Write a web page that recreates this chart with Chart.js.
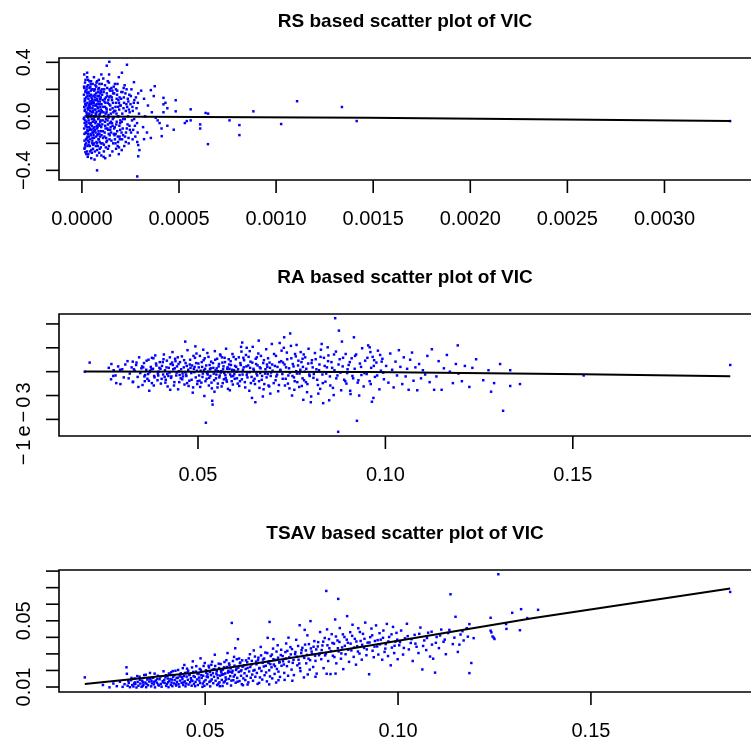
<!DOCTYPE html>
<html>
<head>
<meta charset="utf-8">
<title>VIC scatter plots</title>
<script src="https://cdn.jsdelivr.net/npm/chart.js@4.4.1/dist/chart.umd.min.js"></script>
<style>
  html, body { margin: 0; padding: 0; background: #fff; overflow: hidden; }
  #wrap { position: relative; width: 751px; height: 742px; }
  canvas { position: absolute; left: 0; }
</style>
</head>
<body>
<div id="wrap">
  <canvas id="rsChart" width="751" height="256" style="top:0"></canvas>
  <canvas id="raChart" width="751" height="256" style="top:256px"></canvas>
  <canvas id="tsChart" width="751" height="230" style="top:512px"></canvas>
</div>
<script>
// ---- data ----

// panel titles
const titles = ['RS based scatter plot of VIC', 'RA based scatter plot of VIC', 'TSAV based scatter plot of VIC'];

// RS panel
const rsXTicks = [0, 0.0005, 0.001, 0.0015, 0.002, 0.0025, 0.003];
const rsXLabels = ['0.0000', '0.0005', '0.0010', '0.0015', '0.0020', '0.0025', '0.0030'];
const rsYTicks = [-0.4, -0.2, 0, 0.2, 0.4];
const rsYLabels = ['\u22120.4', '', '0.0', '', '0.4'];
const rsLine = [[0.00002, -0.002], [0.00147, -0.01], [0.00334, -0.035]];
const rsPoints = [
  [1.2e-5,0.31],[2.5e-5,0.22],[1.8e-5,0.18],[2.9e-5,0.15],[1.4e-5,0.11],[2.2e-5,0.08],[1.6e-5,0.05],[2.7e-5,0.02],
  [1.1e-5,-0.01],[2.4e-5,-0.04],[1.9e-5,-0.07],[2.8e-5,-0.1],[1.3e-5,-0.13],[2.1e-5,-0.17],[1.7e-5,-0.21],[2.6e-5,-0.26],
  [1.5e-5,0.13],[2.3e-5,0.03],[1.0e-5,-0.02],[2.9e-5,-0.15],[1.9e-5,0.19],[2.5e-5,-0.08],[1.2e-5,0.07],[2.2e-5,-0.12],
  [1.6e-5,0.25],[2.8e-5,0.1],[1.4e-5,-0.05],[2.0e-5,0.0],
  [3.2e-5,0.27],[4.5e-5,0.24],[5.8e-5,0.2],[3.6e-5,0.17],[4.9e-5,0.14],[5.3e-5,0.12],[3.9e-5,0.09],[4.2e-5,0.07],
  [5.6e-5,0.04],[3.4e-5,0.01],[4.7e-5,0.0],[5.1e-5,-0.02],[3.8e-5,-0.05],[4.4e-5,-0.06],[5.9e-5,-0.09],[3.1e-5,-0.11],
  [4.6e-5,-0.14],[5.4e-5,-0.16],[3.7e-5,-0.19],[4.1e-5,-0.22],[5.7e-5,-0.24],[3.3e-5,-0.28],[4.8e-5,-0.31],[5.2e-5,0.1],
  [3.5e-5,-0.03],[4.3e-5,0.06],[5.5e-5,-0.12],[4.0e-5,0.15],[3.0e-5,-0.18],[4.6e-5,0.19],[5.0e-5,0.03],[3.6e-5,-0.08],
  [5.8e-5,0.08],[4.2e-5,-0.26],[3.9e-5,0.21],[5.3e-5,-0.2],[4.4e-5,0.11],[3.2e-5,0.05],[5.6e-5,-0.04],[4.9e-5,-0.1],
  [6.2e-5,0.29],[7.5e-5,0.25],[8.8e-5,0.21],[9.6e-5,0.19],[6.6e-5,0.16],[7.9e-5,0.13],[9.2e-5,0.11],[6.9e-5,0.08],
  [8.3e-5,0.06],[9.9e-5,0.03],[7.1e-5,0.02],[8.6e-5,-0.01],[6.4e-5,-0.03],[9.4e-5,-0.04],[7.7e-5,-0.07],[8.1e-5,-0.08],
  [6.8e-5,-0.1],[9.0e-5,-0.13],[7.3e-5,-0.15],[8.5e-5,-0.17],[6.1e-5,-0.2],[9.7e-5,-0.23],[7.8e-5,-0.25],[8.9e-5,-0.27],
  [6.5e-5,-0.32],[9.3e-5,0.17],[7.0e-5,0.05],[8.4e-5,-0.06],[6.7e-5,0.12],[9.8e-5,-0.11],[7.4e-5,0.22],[8.0e-5,0.15],
  [6.3e-5,0.0],[9.1e-5,-0.19],[7.6e-5,0.09],[8.7e-5,0.27],[6.0e-5,-0.14],[9.5e-5,0.07],[7.2e-5,-0.22],[8.2e-5,0.18],
  [6.9e-5,-0.05],[9.0e-5,0.01],[7.8e-5,-0.29],[9.7e-5,0.14],
  [1.02e-4,0.24],[1.15e-4,0.2],[1.28e-4,0.17],[1.41e-4,0.14],[1.07e-4,0.12],[1.33e-4,0.1],[1.19e-4,0.07],[1.46e-4,0.05],
  [1.11e-4,0.03],[1.37e-4,0.01],[1.24e-4,-0.02],[1.49e-4,-0.04],[1.05e-4,-0.06],[1.31e-4,-0.09],[1.17e-4,-0.12],[1.43e-4,-0.14],
  [1.09e-4,-0.16],[1.26e-4,-0.19],[1.39e-4,-0.22],[1.13e-4,-0.26],[1.47e-4,0.15],[1.22e-4,0.02],[1.35e-4,-0.1],[1.01e-4,0.09],
  [1.29e-4,-0.18],[1.44e-4,-0.29],[1.1e-4,0.28],[1.4e-4,0.31],[1.2e-4,-0.07],[1.45e-4,0.19],[1.18e-4,0.13],[1.32e-4,-0.03],
  [1.06e-4,-0.2],[1.25e-4,0.06],[1.38e-4,-0.13],[1.14e-4,0.0],[1.48e-4,-0.08],
  [1.52e-4,0.21],[1.66e-4,0.17],[1.79e-4,0.13],[1.91e-4,0.1],[1.58e-4,0.06],[1.72e-4,0.04],[1.85e-4,0.0],[1.98e-4,-0.03],
  [1.55e-4,-0.05],[1.69e-4,-0.08],[1.82e-4,-0.11],[1.94e-4,-0.15],[1.61e-4,-0.2],[1.76e-4,-0.24],[1.88e-4,0.12],[1.63e-4,-0.01],
  [1.96e-4,0.08],[1.74e-4,-0.13],[1.57e-4,0.19],[1.83e-4,0.24],[1.9e-4,0.29],[1.7e-4,-0.17],[1.6e-4,0.1],[1.93e-4,-0.07],
  [1.78e-4,0.02],
  [2.03e-4,0.18],[2.16e-4,0.14],[2.29e-4,0.09],[2.42e-4,0.05],[2.08e-4,0.02],[2.21e-4,-0.02],[2.35e-4,-0.06],[2.47e-4,-0.1],
  [2.12e-4,-0.14],[2.26e-4,-0.19],[2.39e-4,0.11],[2.05e-4,-0.04],[2.33e-4,0.07],[2.18e-4,-0.22],[2.44e-4,0.16],[2.1e-4,-0.09],
  [2.3e-4,0.2],
  [2.52e-4,0.15],[2.67e-4,0.1],[2.81e-4,0.06],[2.94e-4,0.02],[2.58e-4,-0.03],[2.73e-4,-0.07],[2.87e-4,-0.12],[2.61e-4,-0.17],
  [2.96e-4,-0.25],[2.7e-4,0.12],[2.84e-4,-0.05],[2.55e-4,0.2],[2.9e-4,0.17],[2.64e-4,-0.1],
  [3.05e-4,0.19],[3.2e-4,0.13],[3.4e-4,0.08],[3.6e-4,0.03],[3.8e-4,-0.01],[4.0e-4,-0.05],[3.15e-4,-0.08],[3.35e-4,-0.12],
  [3.55e-4,-0.16],[4.3e-4,0.1],[3.9e-4,-0.03],[4.4e-4,0.06],[3.7e-4,0.15],[4.1e-4,-0.09],[3.25e-4,0.0],[4.2e-4,0.03],
  [1.05e-5,0.16],[1.15e-5,-0.09],[1.25e-5,0.21],[1.35e-5,-0.18],[1.45e-5,0.04],[1.55e-5,-0.23],[1.65e-5,0.12],[1.75e-5,-0.03],
  [1.85e-5,0.27],[1.95e-5,-0.12],[2.05e-5,0.09],[2.15e-5,-0.2],[2.25e-5,0.14],[2.35e-5,-0.06],[2.45e-5,0.2],[2.55e-5,0.01],
  [2.65e-5,-0.16],[2.75e-5,0.17],[2.85e-5,-0.22],[2.95e-5,0.06],[3.05e-5,-0.13],[3.15e-5,0.23],[3.25e-5,-0.01],[3.35e-5,0.13],
  [3.45e-5,-0.21],[3.55e-5,0.08],[3.65e-5,-0.15],[3.75e-5,0.02],[3.85e-5,0.26],[3.95e-5,-0.1],[4.05e-5,0.11],[4.15e-5,-0.17],
  [4.25e-5,0.04],[4.35e-5,0.22],[4.45e-5,-0.13],[4.55e-5,0.09],[4.65e-5,-0.05],[4.75e-5,0.16],[4.85e-5,-0.25],[4.95e-5,0.01],
  [5.05e-5,0.2],[5.15e-5,-0.07],[5.25e-5,0.13],[5.35e-5,-0.18],[5.45e-5,0.06],[5.55e-5,0.24],[5.65e-5,-0.12],[5.75e-5,0.03],
  [5.85e-5,-0.21],[5.95e-5,0.15],[6.05e-5,-0.02],[6.15e-5,0.1],[6.25e-5,-0.16],[6.35e-5,0.19],[6.45e-5,-0.08],[6.55e-5,0.05],
  [6.65e-5,-0.26],[6.75e-5,0.14],[6.85e-5,0.0],[6.95e-5,0.23],[7.05e-5,-0.12],[7.15e-5,0.08],[7.25e-5,-0.04],[7.35e-5,0.17],
  [7.45e-5,-0.19],[7.55e-5,0.03],[7.65e-5,0.12],[7.75e-5,-0.09],[7.85e-5,0.26],[7.95e-5,-0.14],[8.05e-5,0.07],[8.15e-5,-0.22],
  [8.25e-5,0.11],[8.35e-5,-0.02],[8.45e-5,0.2],[8.55e-5,-0.11],[8.65e-5,0.04],[8.75e-5,-0.17],[8.85e-5,0.15],[8.95e-5,-0.06],
  [9.05e-5,0.24],[9.15e-5,-0.24],[9.25e-5,0.02],[9.35e-5,-0.15],[9.45e-5,0.13],[9.55e-5,-0.03],[9.65e-5,0.09],[9.75e-5,-0.2],
  [9.85e-5,0.18],[9.95e-5,-0.08],[1.03e-4,0.04],[1.08e-4,-0.11],[1.12e-4,0.18],[1.16e-4,-0.15],[1.21e-4,0.1],[1.23e-4,-0.23],
  [1.27e-4,0.03],[1.3e-4,0.21],[1.34e-4,-0.06],[1.36e-4,0.12],[1.42e-4,-0.17],[1.46e-4,0.08],[1.5e-4,-0.12],[1.54e-4,0.14],
  [1.59e-4,-0.02],[1.64e-4,0.22],[1.68e-4,-0.14],[1.73e-4,0.07],[1.77e-4,-0.06],[1.81e-4,0.16],[1.86e-4,-0.19],[1.92e-4,0.05],
  [1.97e-4,-0.1],[2.02e-4,0.13],[2.07e-4,-0.17],[2.14e-4,0.06],[2.2e-4,0.23],[2.27e-4,-0.12],[2.37e-4,0.0],[2.45e-4,-0.07],
  [2.5e-4,0.09],[2.62e-4,0.04],[2.75e-4,-0.15],[2.88e-4,0.1],[1.1e-5,0.22],[1.3e-5,-0.24],[1.7e-5,0.09],[2.3e-5,-0.28],
  [2.7e-5,0.29],[3.3e-5,0.18],[3.7e-5,0.07],[4.3e-5,-0.09],[4.7e-5,0.26],[5.1e-5,-0.27],[5.7e-5,0.11],[6.3e-5,-0.11],
  [6.7e-5,0.2],[7.3e-5,0.01],[7.7e-5,-0.2],[8.3e-5,-0.13],[8.7e-5,0.09],[9.3e-5,-0.07],[9.7e-5,0.05],[1.04e-4,0.16],
  [1.19e-4,-0.04],[1.39e-4,0.25],[1.62e-4,0.03],[1.84e-4,-0.22],[2.24e-4,0.17],[2.4e-4,-0.16],
  [1.01e-4,-0.14],[1.04e-4,0.2],[1.07e-4,-0.03],[1.1e-4,0.07],[1.13e-4,-0.21],[1.16e-4,0.11],[1.19e-4,0.23],[1.22e-4,-0.09],
  [1.25e-4,-0.16],[1.28e-4,0.05],[1.31e-4,0.15],[1.34e-4,-0.24],[1.37e-4,-0.01],[1.4e-4,0.09],[1.43e-4,0.2],[1.46e-4,-0.1],
  [1.49e-4,0.02],[1.52e-4,-0.18],[1.55e-4,0.12],[1.58e-4,-0.07],[1.61e-4,0.17],[1.64e-4,-0.13],[1.67e-4,0.04],[1.7e-4,0.24],
  [1.73e-4,-0.2],[1.76e-4,0.1],[1.79e-4,-0.04],[1.82e-4,0.19],[1.85e-4,-0.15],[1.88e-4,0.0],[1.91e-4,-0.23],[1.94e-4,0.14],
  [1.97e-4,-0.05],[2.0e-4,0.08],[2.04e-4,-0.12],[2.09e-4,0.18],[2.13e-4,-0.02],[2.17e-4,0.1],[2.22e-4,-0.15],[2.26e-4,0.04],
  [2.31e-4,-0.09],[2.36e-4,0.13],[2.41e-4,-0.2],[2.46e-4,0.03],[2.53e-4,-0.12],[2.6e-4,0.07],[2.69e-4,-0.02],[2.78e-4,0.14],
  [2.85e-4,-0.19],[1.12e-4,-0.3],[1.33e-4,0.26],[1.57e-4,-0.26],[1.75e-4,0.2],[1.95e-4,-0.17],[2.15e-4,0.21],[1.44e-4,-0.05],
  [1.24e-4,0.14],[1.66e-4,-0.09],[1.86e-4,0.07],[2.05e-4,-0.25],
  [1.41e-4,0.404],[2.32e-4,0.382],[1.28e-4,0.375],[2.7e-5,0.323],[2.06e-4,0.323],[1.0e-4,0.31],[2.68e-4,0.253],[3.75e-4,0.223],
  [3.55e-4,0.194],[4.83e-4,0.119],[4.2e-4,0.137],[4.2e-4,0.089],[5.6e-4,0.052],[4.83e-4,0.037],[6.37e-4,0.025],[6.5e-4,0.02],
  [8.83e-4,0.037],[1.108e-3,0.112],[1.339e-3,0.069],[1.415e-3,-0.035],[1.026e-3,-0.057],[8.11e-4,-0.065],[8.11e-4,-0.139],
  [7.6e-4,-0.03],[6.09e-4,-0.06],[6.09e-4,-0.09],[6.49e-4,-0.206],[5.6e-4,-0.03],[5.4e-4,-0.035],[5.3e-4,-0.05],
  [4.73e-4,-0.099],[4.11e-4,-0.147],[4.4e-4,-0.07],[3.2e-4,-0.169],[2.9e-4,-0.213],[2.9e-4,-0.296],[2.85e-4,-0.445],
  [7.8e-5,-0.4],[3.0e-5,-0.3],[1.0e-4,-0.29],[1.2e-4,-0.31],[1.9e-4,-0.28],[1.8e-5,-0.266],[3.338e-3,-0.035]
];

// RA panel
const raXTicks = [0.05, 0.10, 0.15];
const raXLabels = ['0.05', '0.10', '0.15'];
const raYTicks = [-0.001, -0.0005, 0, 0.0005, 0.001];
const raYLabels = ['\u22121e\u221203', '', '', '', ''];
const raLine = [[0.0198, 0.05e-4], [0.0954, -0.08e-4], [0.1529, -0.56e-4], [0.192, -0.98e-4]];
const raPoints = [
  [0.0198,0],[0.0211,1.9e-4],[0.0262,0.8e-4],[0.0268,-1.6e-4],[0.0269,1.6e-4],[0.0275,0.3e-4],[0.0280,-0.8e-4],[0.0282,-2.4e-4],
  [0.0287,1.1e-4],[0.0292,0.4e-4],[0.0293,-2.6e-4],[0.0298,0.5e-4],[0.0302,-1.2e-4],[0.0306,1.5e-4],[0.0274,-0.9e-4],
  [0.0312,2.2e-4],[0.0318,-0.4e-4],[0.0323,0.9e-4],[0.0327,-2.1e-4],[0.0331,0.2e-4],[0.0335,1.4e-4],[0.0339,-1.1e-4],[0.0343,3.0e-4],
  [0.0346,-0.3e-4],[0.0349,0.7e-4],[0.0352,-2.8e-4],[0.0356,1.8e-4],[0.0359,-0.7e-4],[0.0362,0.4e-4],[0.0365,-1.5e-4],[0.0368,2.5e-4],
  [0.0371,-0.1e-4],[0.0374,1.0e-4],[0.0377,-2.4e-4],[0.0380,0.6e-4],[0.0383,-0.9e-4],[0.0386,3.4e-4],[0.0389,1.3e-4],[0.0392,-1.8e-4],
  [0.0395,0.0],[0.0398,2.0e-4],[0.0315,-1.4e-4],[0.0329,0.5e-4],[0.0341,-3.2e-4],[0.0354,0.9e-4],[0.0367,-0.5e-4],[0.0381,2.8e-4],
  [0.0393,-0.4e-4],[0.0336,1.9e-4],[0.0358,-2.0e-4],[0.0372,0.2e-4],[0.0384,-1.2e-4],[0.0397,0.8e-4],[0.0326,2.1e-4],[0.0370,-4.0e-4],
  [0.0326,-2.2e-4],[0.0377,2.9e-4],
  [0.0401,-2.5e-4],[0.0404,1.2e-4],[0.0407,-0.6e-4],[0.0409,3.6e-4],[0.0412,0.3e-4],[0.0414,-1.7e-4],[0.0417,2.3e-4],[0.0419,-3.1e-4],
  [0.0422,0.8e-4],[0.0424,-0.2e-4],[0.0427,1.6e-4],[0.0429,-1.0e-4],[0.0432,4.1e-4],[0.0434,0.5e-4],[0.0437,-2.2e-4],[0.0439,2.7e-4],
  [0.0442,-0.8e-4],[0.0444,1.1e-4],[0.0447,-3.7e-4],[0.0449,0.1e-4],[0.0452,2.0e-4],[0.0454,-1.4e-4],[0.0457,3.2e-4],[0.0459,-0.4e-4],
  [0.0462,0.9e-4],[0.0464,-2.7e-4],[0.0467,1.8e-4],[0.0469,-0.9e-4],[0.0472,4.5e-4],[0.0474,0.4e-4],[0.0477,-1.9e-4],[0.0479,2.5e-4],
  [0.0482,-0.3e-4],[0.0484,1.3e-4],[0.0487,-3.3e-4],[0.0489,0.6e-4],[0.0492,2.9e-4],[0.0494,-1.2e-4],[0.0497,0.2e-4],[0.0499,-2.0e-4],
  [0.0406,2.0e-4],[0.0418,-0.5e-4],[0.0426,-3.8e-4],[0.0438,0.7e-4],[0.0446,3.0e-4],[0.0458,-1.6e-4],[0.0466,-0.1e-4],[0.0478,1.5e-4],
  [0.0486,-4.4e-4],[0.0496,3.8e-4],[0.0466,6.3e-4],[0.0493,5.3e-4],[0.0411,-1.1e-4],[0.0431,1.9e-4],[0.0451,-0.7e-4],[0.0471,-2.4e-4],
  [0.0491,1.0e-4],
  [0.0501,1.7e-4],[0.0503,-0.8e-4],[0.0505,3.3e-4],[0.0507,0.2e-4],[0.0509,-2.3e-4],[0.0511,1.0e-4],[0.0513,-0.4e-4],[0.0515,2.4e-4],
  [0.0517,-5.1e-4],[0.0519,0.6e-4],[0.0521,-10.7e-4],[0.0523,-1.5e-4],[0.0525,3.9e-4],[0.0527,0.0],[0.0529,-2.9e-4],[0.0531,1.4e-4],
  [0.0533,-0.9e-4],[0.0535,2.1e-4],[0.0537,-3.5e-4],[0.0538,-6.1e-4],[0.0539,-6.9e-4],[0.0541,0.8e-4],[0.0543,-1.8e-4],[0.0545,4.3e-4],
  [0.0547,0.3e-4],[0.0549,-0.6e-4],[0.0551,2.7e-4],[0.0553,-2.5e-4],[0.0555,1.1e-4],[0.0557,-1.2e-4],[0.0559,3.6e-4],[0.0561,-0.2e-4],
  [0.0563,-3.1e-4],[0.0565,1.9e-4],[0.0567,0.5e-4],[0.0569,-1.6e-4],[0.0571,2.9e-4],[0.0573,-0.7e-4],[0.0575,4.8e-4],[0.0577,-2.1e-4],
  [0.0579,0.9e-4],[0.0581,-0.1e-4],[0.0583,1.5e-4],[0.0585,-3.9e-4],[0.0587,2.2e-4],[0.0589,-1.0e-4],[0.0591,0.4e-4],[0.0593,-2.7e-4],
  [0.0595,3.1e-4],[0.0597,-0.5e-4],[0.0599,1.2e-4],[0.0504,-1.9e-4],[0.0514,4.6e-4],[0.0524,-0.3e-4],[0.0534,0.7e-4],[0.0544,-4.2e-4],
  [0.0554,0.1e-4],[0.0564,3.0e-4],[0.0574,-1.3e-4],[0.0584,0.6e-4],[0.0594,-0.9e-4],
  [0.0601,2.6e-4],[0.0604,-1.4e-4],[0.0607,0.5e-4],[0.0610,-3.0e-4],[0.0613,1.8e-4],[0.0616,4.2e-4],[0.0619,-0.6e-4],[0.0622,0.9e-4],
  [0.0625,-2.2e-4],[0.0628,3.5e-4],[0.0631,-0.2e-4],[0.0634,1.3e-4],[0.0637,-4.0e-4],[0.0640,2.1e-4],[0.0643,-1.1e-4],[0.0646,5.2e-4],
  [0.0649,0.3e-4],[0.0652,-2.6e-4],[0.0653,-6.4e-4],[0.0655,1.6e-4],[0.0658,-0.8e-4],[0.0661,3.8e-4],[0.0664,-3.4e-4],[0.0667,0.7e-4],
  [0.0670,-1.7e-4],[0.0673,-5.2e-4],[0.0676,2.4e-4],[0.0679,-0.4e-4],[0.0682,4.7e-4],[0.0685,1.0e-4],[0.0688,-2.9e-4],[0.0691,1.9e-4],
  [0.0694,-0.9e-4],[0.0697,5.8e-4],[0.0603,0.0],[0.0612,-2.0e-4],[0.0621,2.9e-4],[0.0630,-0.7e-4],[0.0639,0.8e-4],[0.0648,-1.9e-4],
  [0.0657,3.0e-4],[0.0666,-0.3e-4],[0.0675,-3.7e-4],[0.0684,1.5e-4],[0.0693,-4.6e-4],[0.0699,0.2e-4],[0.0618,6.1e-4],[0.0644,-5.5e-4],
  [0.0662,6.5e-4],[0.0686,-0.5e-4],[0.0615,5.2e-4],[0.0630,5.0e-4],[0.0638,4.3e-4],
  [0.0702,-2.4e-4],[0.0705,1.2e-4],[0.0708,3.3e-4],[0.0711,-0.6e-4],[0.0714,-4.1e-4],[0.0717,2.0e-4],[0.0720,0.4e-4],[0.0723,4.4e-4],
  [0.0726,-1.5e-4],[0.0729,5.0e-4],[0.0730,7.2e-4],[0.0732,-2.9e-4],[0.0735,0.9e-4],[0.0738,2.6e-4],[0.0741,-0.8e-4],[0.0744,-3.5e-4],
  [0.0746,8.0e-4],[0.0748,5.4e-4],[0.0751,-5.0e-4],[0.0753,1.6e-4],[0.0756,-1.2e-4],[0.0759,3.7e-4],[0.0762,0.1e-4],[0.0765,-2.2e-4],
  [0.0768,2.3e-4],[0.0771,-0.4e-4],[0.0774,4.1e-4],[0.0777,-3.0e-4],[0.0780,1.0e-4],[0.0781,-5.9e-4],[0.0783,-1.8e-4],[0.0786,3.0e-4],
  [0.0789,0.6e-4],[0.0792,-2.6e-4],[0.0795,4.8e-4],[0.0798,-0.9e-4],[0.0709,-1.0e-4],[0.0727,1.9e-4],[0.0745,-0.2e-4],[0.0763,5.6e-4],
  [0.0779,2.7e-4],[0.0791,-4.3e-4],[0.0718,6.0e-4],[0.0757,-3.8e-4],
  [0.0801,-6.4e-4],[0.0802,-5.2e-4],[0.0804,2.4e-4],[0.0808,-1.3e-4],[0.0812,3.9e-4],[0.0816,0.5e-4],[0.0820,-2.8e-4],[0.0821,-4.6e-4],
  [0.0824,1.5e-4],[0.0828,4.6e-4],[0.0830,5.8e-4],[0.0832,-0.6e-4],[0.0834,-6.6e-4],[0.0836,2.9e-4],[0.0840,-2.1e-4],[0.0844,0.9e-4],
  [0.0848,3.4e-4],[0.0850,-6.0e-4],[0.0852,-1.0e-4],[0.0856,2.0e-4],[0.0860,-3.4e-4],[0.0864,0.3e-4],[0.0866,11.2e-4],[0.0868,4.2e-4],
  [0.0872,-0.8e-4],[0.0874,-12.6e-4],[0.0876,8.6e-4],[0.0878,2.6e-4],[0.0882,-3.9e-4],[0.0886,1.1e-4],[0.0890,-1.7e-4],[0.0894,3.7e-4],
  [0.0898,-0.3e-4],[0.0806,0.9e-4],[0.0826,-3.6e-4],[0.0846,5.1e-4],[0.0862,-4.9e-4],[0.0884,6.3e-4],[0.0896,-2.5e-4],
  [0.0902,1.4e-4],[0.0906,-4.0e-4],[0.0907,-4.7e-4],[0.0910,2.8e-4],[0.0914,-1.4e-4],[0.0916,7.2e-4],[0.0918,0.6e-4],[0.0922,3.6e-4],
  [0.0924,-10.3e-4],[0.0926,-2.3e-4],[0.0930,-5.0e-4],[0.0932,1.7e-4],[0.0936,-0.7e-4],[0.0938,4.9e-4],[0.0942,-3.1e-4],[0.0946,2.3e-4],
  [0.0950,-0.5e-4],[0.0954,5.5e-4],[0.0958,-2.0e-4],[0.0962,0.8e-4],[0.0964,-6.3e-4],[0.0966,3.1e-4],[0.0968,-5.5e-4],[0.0972,-1.1e-4],
  [0.0976,1.9e-4],[0.0980,4.4e-4],[0.0984,-3.7e-4],[0.0988,0.2e-4],[0.0992,2.7e-4],[0.0996,-1.6e-4],[0.0958,5.1e-4],[0.0960,4.1e-4],
  [0.0970,2.4e-4],[0.0990,2.1e-4],
  [0.1002,1.2e-4],[0.1008,-2.3e-4],[0.1013,3.8e-4],[0.1018,0.4e-4],[0.1022,-3.3e-4],[0.1027,2.1e-4],[0.1031,-0.8e-4],[0.1036,4.5e-4],
  [0.1040,1.0e-4],[0.1045,-2.6e-4],[0.1049,3.0e-4],[0.1054,-1.0e-4],[0.1058,0.6e-4],[0.1062,-3.8e-4],[0.1066,2.5e-4],[0.1071,4.0e-4],
  [0.1075,-1.9e-4],[0.1080,0.9e-4],[0.1085,-3.9e-4],[0.1090,1.6e-4],[0.1095,-1.4e-4],[0.1100,0.3e-4],[0.1106,-0.6e-4],[0.1112,3.3e-4],
  [0.1118,-2.2e-4],[0.1124,4.7e-4],[0.1130,-3.8e-4],[0.1136,-1.0e-4],[0.1142,2.2e-4],[0.1150,-3.8e-4],[0.1156,0.7e-4],[0.1164,3.5e-4],
  [0.1172,0.0],[0.1180,-2.4e-4],[0.1188,1.6e-4],[0.1193,5.5e-4],[0.1195,-0.4e-4],[0.1204,-2.0e-4],[0.1212,1.2e-4],[0.1224,-3.2e-4],
  [0.1232,0.8e-4],[0.1242,2.6e-4],[0.1261,-1.8e-4],[0.1275,0.3e-4],[0.1282,-4.2e-4],[0.1290,-2.4e-4],[0.1306,1.6e-4],[0.1314,-8.2e-4],
  [0.1333,-3.0e-4],[0.1333,0.3e-4],[0.1359,-2.6e-4],[0.1529,-0.8e-4],[0.1920,1.4e-4],
  [0.0351,1.1e-4],[0.0357,-1.0e-4],[0.0363,2.3e-4],[0.0369,-1.9e-4],[0.0376,0.5e-4],[0.0382,-2.9e-4],[0.0388,1.7e-4],[0.0394,-0.8e-4],
  [0.0400,0.6e-4],[0.0403,-1.5e-4],[0.0408,2.6e-4],[0.0413,-2.3e-4],[0.0416,0.9e-4],[0.0421,-0.9e-4],[0.0425,3.0e-4],[0.0428,-1.3e-4],
  [0.0433,1.4e-4],[0.0436,-2.9e-4],[0.0440,2.2e-4],[0.0443,-0.2e-4],[0.0448,1.6e-4],[0.0450,-2.2e-4],[0.0455,0.5e-4],[0.0460,-1.0e-4],
  [0.0463,2.4e-4],[0.0468,-0.6e-4],[0.0470,1.2e-4],[0.0475,-3.0e-4],[0.0480,0.8e-4],[0.0483,-1.7e-4],[0.0488,3.3e-4],[0.0490,-0.1e-4],
  [0.0495,1.8e-4],[0.0498,-2.6e-4],
  [0.0502,0.9e-4],[0.0506,-3.2e-4],[0.0510,2.0e-4],[0.0512,-1.1e-4],[0.0516,0.3e-4],[0.0518,2.8e-4],[0.0520,-2.0e-4],[0.0522,1.3e-4],
  [0.0526,-0.6e-4],[0.0528,3.1e-4],[0.0530,-1.3e-4],[0.0532,0.5e-4],[0.0536,-2.3e-4],[0.0540,1.8e-4],[0.0542,-0.4e-4],[0.0546,2.5e-4],
  [0.0548,-1.4e-4],[0.0550,0.7e-4],[0.0552,-3.3e-4],[0.0556,1.6e-4],[0.0558,-0.8e-4],[0.0560,3.4e-4],[0.0562,0.1e-4],[0.0566,-2.4e-4],
  [0.0568,1.1e-4],[0.0570,-0.3e-4],[0.0572,2.0e-4],[0.0576,-1.8e-4],[0.0578,0.6e-4],[0.0580,-3.6e-4],[0.0582,2.6e-4],[0.0586,-0.6e-4],
  [0.0588,1.4e-4],[0.0590,-2.0e-4],[0.0592,3.7e-4],[0.0596,0.3e-4],[0.0598,-1.5e-4],
  [0.0602,1.0e-4],[0.0606,-2.5e-4],[0.0609,3.0e-4],[0.0611,-0.7e-4],[0.0614,1.4e-4],[0.0617,-1.6e-4],[0.0620,0.4e-4],[0.0623,2.4e-4],
  [0.0626,-3.3e-4],[0.0629,1.1e-4],[0.0632,-1.2e-4],[0.0635,3.1e-4],[0.0638,-0.1e-4],[0.0641,-2.4e-4],[0.0645,1.9e-4],[0.0648,0.6e-4],
  [0.0651,-1.5e-4],[0.0654,2.7e-4],[0.0656,-0.4e-4],[0.0659,1.3e-4],[0.0663,-2.0e-4],[0.0665,0.9e-4],[0.0668,3.3e-4],[0.0671,-0.9e-4],
  [0.0674,1.8e-4],[0.0677,-2.6e-4],[0.0680,0.5e-4],[0.0683,-1.2e-4],[0.0687,2.8e-4],[0.0690,-3.1e-4],[0.0692,0.8e-4],[0.0695,-0.2e-4],
  [0.0698,1.5e-4],
  [0.0703,3.7e-4],[0.0707,-1.8e-4],[0.0712,1.0e-4],[0.0716,-2.8e-4],[0.0719,0.2e-4],[0.0722,2.2e-4],[0.0725,-0.5e-4],[0.0731,1.5e-4],
  [0.0734,-1.5e-4],[0.0737,4.0e-4],[0.0740,-2.5e-4],[0.0743,0.7e-4],[0.0749,2.8e-4],[0.0752,-0.9e-4],[0.0755,1.1e-4],[0.0758,-2.0e-4],
  [0.0761,3.2e-4],[0.0764,-0.4e-4],[0.0767,1.3e-4],[0.0770,-3.2e-4],[0.0773,0.4e-4],[0.0776,2.0e-4],[0.0779,-1.4e-4],[0.0782,3.6e-4],
  [0.0785,0.0],[0.0788,-2.2e-4],[0.0794,1.7e-4],[0.0797,-0.6e-4],
  [0.0803,1.8e-4],[0.0809,-0.5e-4],[0.0814,2.6e-4],[0.0818,-1.7e-4],[0.0823,0.3e-4],[0.0827,3.1e-4],[0.0833,-2.4e-4],[0.0838,1.2e-4],
  [0.0842,-0.4e-4],[0.0847,2.2e-4],[0.0853,-2.9e-4],[0.0858,0.8e-4],[0.0863,3.6e-4],[0.0869,-1.4e-4],[0.0875,1.5e-4],[0.0880,-0.2e-4],
  [0.0887,2.9e-4],[0.0893,-2.0e-4],[0.0899,0.5e-4],[0.0905,2.0e-4],[0.0912,-0.9e-4],[0.0919,3.3e-4],[0.0928,-1.8e-4],[0.0935,1.0e-4],
  [0.0944,-0.3e-4],[0.0952,2.9e-4],[0.0961,-2.6e-4],[0.0969,1.2e-4],[0.0978,-0.8e-4],[0.0986,3.5e-4],[0.0994,-0.2e-4]
];

// TSAV panel
const tsXTicks = [0.05, 0.10, 0.15];
const tsXLabels = ['0.05', '0.10', '0.15'];
const tsYTicks = [0.01, 0.02, 0.03, 0.04, 0.05, 0.06, 0.07, 0.08];
const tsYLabels = ['0.01', '', '', '', '0.05', '', '', ''];
const tsLine = [[0.0188, 0.0118], [0.0485, 0.0189], [0.0923, 0.0349], [0.1352, 0.0517], [0.1861, 0.0695]];
const tsPoints = [
  [0.0188,0.0158],[0.0235,0.0112],[0.0252,0.0098],[0.0262,0.0121],[0.0271,0.0105],[0.0279,0.0132],[0.0286,0.0101],[0.0291,0.0117],
  [0.0296,0.0219],[0.0297,0.018],[0.0299,0.0108],
  [0.0302,0.0125],[0.0305,0.0099],[0.0308,0.0141],[0.0311,0.0112],[0.0314,0.0103],[0.0317,0.0152],[0.0319,0.0118],[0.0322,0.0097],
  [0.0325,0.0131],[0.0327,0.0108],[0.0330,0.0162],[0.0332,0.0121],[0.0335,0.0101],[0.0337,0.0138],[0.0340,0.0114],[0.0342,0.0172],
  [0.0345,0.0127],[0.0347,0.0099],[0.0350,0.0145],[0.0352,0.0111],[0.0355,0.0133],[0.0357,0.0185],[0.0360,0.0104],[0.0362,0.0122],
  [0.0365,0.0156],[0.0367,0.0116],[0.0370,0.0098],[0.0372,0.0139],[0.0375,0.0126],[0.0377,0.0168],[0.0380,0.0109],[0.0382,0.0147],
  [0.0385,0.0119],[0.0387,0.0102],[0.0390,0.0135],[0.0392,0.0195],[0.0395,0.0124],[0.0397,0.0158],[0.0399,0.0107],[0.0318,0.0128],
  [0.0338,0.0106],[0.0358,0.0149],[0.0378,0.0115],[0.0394,0.0142],[0.0348,0.0119],[0.0368,0.0132],
  [0.0401,0.0118],[0.0403,0.0151],[0.0405,0.0099],[0.0407,0.0136],[0.0409,0.0175],[0.0411,0.0113],[0.0413,0.0127],[0.0415,0.0105],
  [0.0417,0.0162],[0.0419,0.0122],[0.0421,0.0142],[0.0423,0.0198],[0.0425,0.0109],[0.0427,0.0131],[0.0429,0.0156],[0.0431,0.0117],
  [0.0433,0.0102],[0.0435,0.0139],[0.0437,0.0183],[0.0439,0.0125],[0.0441,0.0148],[0.0443,0.0112],[0.0445,0.0166],[0.0447,0.0134],
  [0.0449,0.0104],[0.0451,0.0121],[0.0453,0.0211],[0.0455,0.0144],[0.0457,0.0115],[0.0459,0.0172],[0.0461,0.0129],[0.0463,0.0153],
  [0.0465,0.0108],[0.0467,0.0137],[0.0469,0.0191],[0.0471,0.0119],[0.0473,0.0161],[0.0475,0.0131],[0.0477,0.0226],[0.0479,0.0146],
  [0.0481,0.0112],[0.0483,0.0178],[0.0485,0.0139],[0.0487,0.0124],[0.0489,0.0203],[0.0491,0.0155],[0.0493,0.0101],[0.0495,0.0168],
  [0.0497,0.0133],[0.0499,0.0245],[0.0404,0.0129],[0.0414,0.0145],[0.0424,0.0116],[0.0434,0.0164],[0.0444,0.0127],[0.0454,0.0188],
  [0.0464,0.0142],[0.0474,0.0105],[0.0484,0.0157],[0.0494,0.0121],[0.0412,0.0189],[0.0446,0.0233],[0.0468,0.0255],[0.0488,0.0273],
  [0.0498,0.0107],
  [0.0501,0.0142],[0.0503,0.0186],[0.0505,0.0117],[0.0507,0.0159],[0.0509,0.0228],[0.0511,0.0131],[0.0513,0.0104],[0.0515,0.0172],
  [0.0517,0.0146],[0.0519,0.0203],[0.0521,0.0123],[0.0523,0.0162],[0.0525,0.0295],[0.0527,0.0138],[0.0529,0.0181],[0.0531,0.0112],
  [0.0533,0.0154],[0.0535,0.0241],[0.0537,0.0128],[0.0539,0.0169],[0.0541,0.0196],[0.0543,0.0143],[0.0545,0.0106],[0.0547,0.0177],
  [0.0549,0.0219],[0.0551,0.0134],[0.0553,0.0158],[0.0555,0.0262],[0.0557,0.0121],[0.0559,0.0187],[0.0561,0.0149],[0.0563,0.0231],
  [0.0565,0.0166],[0.0567,0.0109],[0.0569,0.0487],[0.0571,0.0198],[0.0573,0.0141],[0.0575,0.0282],[0.0577,0.0173],[0.0579,0.0126],
  [0.0581,0.0211],[0.0583,0.0155],[0.0585,0.0389],[0.0587,0.0191],[0.0589,0.0136],[0.0591,0.0248],[0.0593,0.0168],[0.0595,0.0117],
  [0.0597,0.0222],[0.0599,0.0152],[0.0504,0.0163],[0.0514,0.0137],[0.0524,0.0208],[0.0534,0.0119],[0.0544,0.0174],[0.0554,0.0145],
  [0.0564,0.0192],[0.0574,0.0163],[0.0584,0.0132],[0.0594,0.0201],[0.0518,0.0253],[0.0538,0.0105],[0.0558,0.0305],[0.0578,0.0334],
  [0.0598,0.0111],[0.0548,0.0128],[0.0568,0.0139],[0.0588,0.0272],
  [0.0602,0.0183],[0.0604,0.0142],[0.0606,0.0261],[0.0608,0.0167],[0.0610,0.0215],[0.0612,0.0128],[0.0614,0.0194],[0.0616,0.0298],
  [0.0618,0.0156],[0.0620,0.0236],[0.0622,0.0175],[0.0624,0.0138],[0.0626,0.0321],[0.0628,0.0203],[0.0630,0.0162],[0.0632,0.0253],
  [0.0634,0.0185],[0.0636,0.0119],[0.0638,0.0277],[0.0640,0.0212],[0.0642,0.0158],[0.0644,0.0342],[0.0646,0.0197],[0.0648,0.0145],
  [0.0650,0.0266],[0.0652,0.0224],[0.0654,0.0171],[0.0656,0.0308],[0.0658,0.0188],[0.0660,0.0134],[0.0662,0.0397],[0.0664,0.0245],
  [0.0666,0.0201],[0.0667,0.0493],[0.0668,0.0164],[0.0670,0.0287],[0.0672,0.0219],[0.0674,0.0152],[0.0676,0.0332],[0.0677,0.0389],
  [0.0678,0.0236],[0.0680,0.0179],[0.0682,0.0264],[0.0684,0.0127],[0.0686,0.0209],[0.0688,0.0352],[0.0690,0.0193],[0.0692,0.0248],
  [0.0694,0.0161],[0.0696,0.0293],[0.0698,0.0228],[0.0610,0.0115],[0.0640,0.0125],[0.0666,0.0116],[0.0690,0.0141],
  [0.0702,0.0255],[0.0705,0.0185],[0.0708,0.0311],[0.0710,0.0363],[0.0712,0.0226],[0.0715,0.0168],[0.0718,0.0279],[0.0721,0.0341],
  [0.0724,0.0205],[0.0727,0.0246],[0.0730,0.0172],[0.0733,0.0298],[0.0736,0.0385],[0.0739,0.0231],[0.0742,0.0265],[0.0745,0.0473],
  [0.0747,0.0196],[0.0750,0.0322],[0.0753,0.0287],[0.0756,0.0158],[0.0759,0.0356],[0.0762,0.0243],[0.0765,0.0412],[0.0768,0.0271],
  [0.0771,0.0205],[0.0773,0.0498],[0.0774,0.0333],[0.0777,0.0299],[0.0780,0.0221],[0.0783,0.0377],[0.0786,0.0258],[0.0789,0.0181],
  [0.0792,0.0345],[0.0795,0.0292],[0.0798,0.0432],[0.0706,0.0143],[0.0726,0.0138],[0.0746,0.0214],[0.0766,0.0176],[0.0786,0.0162],
  [0.0716,0.0398],[0.0758,0.0445],
  [0.0801,0.0268],[0.0804,0.0351],[0.0807,0.0214],[0.0810,0.0396],[0.0813,0.0302],[0.0814,0.068],[0.0815,0.018],[0.0816,0.0448],
  [0.0819,0.0257],[0.0822,0.0334],[0.0825,0.0178],[0.0828,0.0419],[0.0831,0.0289],[0.0834,0.0362],[0.0837,0.0508],[0.0838,0.0181],
  [0.0840,0.0243],[0.0843,0.0381],[0.0845,0.0632],[0.0846,0.0315],[0.0849,0.0456],[0.0852,0.0271],[0.0855,0.0339],[0.0858,0.0208],
  [0.0861,0.0402],[0.0864,0.0298],[0.0868,0.0528],[0.0870,0.0367],[0.0873,0.0252],[0.0876,0.0431],[0.0879,0.0321],[0.0882,0.0476],
  [0.0885,0.0282],[0.0888,0.0391],[0.0891,0.0235],[0.0894,0.0346],[0.0897,0.0455],[0.0900,0.0302],[0.0903,0.0378],[0.0906,0.0265],
  [0.0909,0.0421],[0.0912,0.0336],[0.0915,0.0489],[0.0918,0.0292],[0.0921,0.0368],
  [0.0925,0.0177],[0.0928,0.0401],[0.0931,0.0453],[0.0934,0.0319],[0.0937,0.028],[0.0940,0.0378],[0.0943,0.0472],[0.0946,0.0345],
  [0.0949,0.0296],[0.0952,0.0425],[0.0955,0.0386],[0.0959,0.0265],[0.0962,0.0441],[0.0965,0.0312],[0.0968,0.0359],[0.0971,0.0481],
  [0.0974,0.0287],[0.0977,0.0402],[0.0981,0.0231],[0.0984,0.0338],[0.0987,0.0463],[0.0990,0.0305],[0.0993,0.0374],[0.0996,0.0427],
  [0.0999,0.0268],
  [0.1003,0.0352],[0.1008,0.0441],[0.1013,0.0296],[0.1018,0.0394],[0.1023,0.0482],[0.1028,0.0327],[0.1033,0.0366],[0.1038,0.0257],
  [0.1043,0.0415],[0.1048,0.0343],[0.1053,0.0305],[0.1058,0.0459],[0.1063,0.0206],[0.1068,0.0381],[0.1073,0.0323],[0.1078,0.0428],
  [0.1083,0.0284],[0.1088,0.0356],[0.1091,0.0271],[0.1096,0.0187],[0.1100,0.0402],[0.1106,0.0335],[0.1112,0.0447],[0.1118,0.0373],
  [0.1124,0.0298],[0.1130,0.0426],[0.1136,0.066],[0.1142,0.0359],[0.1149,0.0524],[0.1155,0.0312],[0.1162,0.0417],[0.1170,0.0381],
  [0.1178,0.0455],[0.1185,0.048],[0.1185,0.0184],[0.1190,0.0245],[0.1196,0.0395],
  [0.1240,0.0518],[0.1240,0.044],[0.1242,0.043],[0.1245,0.0405],[0.1250,0.039],[0.1248,0.0398],[0.1260,0.0781],[0.1280,0.048],
  [0.1281,0.0451],[0.1296,0.0548],[0.1316,0.0443],[0.1319,0.057],[0.1335,0.0516],[0.1363,0.0566],[0.1861,0.0674],
  [0.0301,0.0138],[0.0309,0.0155],[0.0316,0.0121],[0.0324,0.0166],[0.0331,0.0143],[0.0339,0.0128],[0.0346,0.0174],[0.0354,0.0152],
  [0.0361,0.0137],[0.0369,0.0181],[0.0376,0.0148],[0.0384,0.0163],[0.0391,0.0129],[0.0398,0.0171],
  [0.0402,0.0167],[0.0406,0.0182],[0.0410,0.0148],[0.0416,0.0196],[0.0420,0.0171],[0.0426,0.0154],[0.0430,0.0203],[0.0436,0.0176],
  [0.0440,0.0159],[0.0442,0.0214],[0.0448,0.0185],[0.0452,0.0163],[0.0456,0.0199],[0.0460,0.0177],[0.0466,0.0218],[0.0470,0.0166],
  [0.0476,0.0193],[0.0480,0.0181],[0.0486,0.0209],[0.0490,0.0172],[0.0496,0.0227],
  [0.0502,0.0201],[0.0506,0.0176],[0.0510,0.0218],[0.0512,0.0191],[0.0516,0.0234],[0.0520,0.0183],[0.0522,0.0207],[0.0526,0.0227],
  [0.0530,0.0195],[0.0532,0.0171],[0.0536,0.0214],[0.0540,0.0239],[0.0542,0.0188],[0.0546,0.0205],[0.0550,0.0251],[0.0552,0.0182],
  [0.0556,0.0221],[0.0560,0.0198],[0.0562,0.0242],[0.0566,0.0213],[0.0570,0.0187],[0.0572,0.0257],[0.0576,0.0229],[0.0580,0.0203],
  [0.0582,0.0268],[0.0586,0.0217],[0.0590,0.0244],[0.0592,0.0196],[0.0596,0.0261],
  [0.0601,0.0231],[0.0605,0.0209],[0.0609,0.0249],[0.0613,0.0273],[0.0617,0.0221],[0.0621,0.0258],[0.0625,0.0199],[0.0629,0.0284],
  [0.0633,0.0237],[0.0637,0.0262],[0.0641,0.0215],[0.0645,0.0291],[0.0649,0.0246],[0.0653,0.0272],[0.0657,0.0228],[0.0661,0.0305],
  [0.0665,0.0255],[0.0669,0.0238],[0.0673,0.0296],[0.0677,0.0268],[0.0681,0.0226],[0.0685,0.0314],[0.0689,0.0277],[0.0693,0.0251],
  [0.0697,0.0325],
  [0.0701,0.0287],[0.0704,0.0236],[0.0709,0.0272],[0.0713,0.0318],[0.0717,0.0253],[0.0722,0.0297],[0.0725,0.0329],[0.0729,0.0264],
  [0.0734,0.0311],[0.0738,0.0283],[0.0741,0.0348],[0.0744,0.0242],[0.0749,0.0305],[0.0752,0.0337],[0.0757,0.0276],[0.0761,0.0321],
  [0.0764,0.0294],[0.0769,0.0359],[0.0772,0.0262],[0.0776,0.0314],[0.0781,0.0343],[0.0785,0.0289],[0.0788,0.0327],[0.0793,0.0371],
  [0.0797,0.0302],
  [0.0802,0.0323],[0.0806,0.0374],[0.0811,0.0291],[0.0817,0.0352],[0.0821,0.0389],[0.0826,0.0317],[0.0830,0.0366],[0.0835,0.0281],
  [0.0839,0.0405],[0.0844,0.0334],[0.0848,0.0372],[0.0853,0.0303],[0.0857,0.0418],[0.0862,0.0349],[0.0867,0.0386],[0.0871,0.0325],
  [0.0877,0.0362],[0.0881,0.0409],[0.0886,0.0338],[0.0892,0.0375],[0.0896,0.0314],[0.0901,0.0432],[0.0907,0.0355],[0.0913,0.0391],
  [0.0919,0.0327],[0.0926,0.0369],[0.0933,0.0412],[0.0939,0.0344],[0.0947,0.0383],[0.0953,0.0358],[0.0961,0.0397],[0.0967,0.0332],
  [0.0975,0.0375],[0.0983,0.0418],[0.0991,0.0349],[0.0998,0.0386],
  [0.1005,0.0371],[0.1015,0.0336],[0.1025,0.0407],[0.1035,0.0389],[0.1045,0.0362],[0.1055,0.0421],[0.1065,0.0348],[0.1075,0.0396],
  [0.1087,0.0434],[0.1098,0.0367],[0.1109,0.0411],[0.1121,0.0386],[0.1133,0.0445],[0.1146,0.0398],[0.1159,0.0356],[0.1167,0.0437],
  [0.1181,0.0404]
];

// ---- R style frame: box, ticks, labels, title ----
const FONT = '"Liberation Sans", Arial, Helvetica, sans-serif';

const rFrame = {
  id: 'rFrame',
  afterDraw(chart, args, opts) {
    const ctx = chart.ctx;
    const area = chart.chartArea;
    const xs = chart.scales.x;
    const ys = chart.scales.y;
    ctx.save();
    ctx.strokeStyle = '#000';
    ctx.fillStyle = '#000';
    ctx.lineWidth = 1.6;

    // box (right side runs off the picture)
    ctx.beginPath();
    ctx.moveTo(chart.width + 5, area.top);
    ctx.lineTo(area.left, area.top);
    ctx.lineTo(area.left, area.bottom);
    ctx.lineTo(chart.width + 5, area.bottom);
    ctx.stroke();

    // x axis
    ctx.font = '20px ' + FONT;
    ctx.textAlign = 'center';
    ctx.textBaseline = 'alphabetic';
    opts.xTicks.forEach((v, i) => {
      const px = xs.getPixelForValue(v);
      ctx.beginPath();
      ctx.moveTo(px, area.bottom);
      ctx.lineTo(px, area.bottom + 13);
      ctx.stroke();
      ctx.fillText(opts.xLabels[i], px, area.bottom + 45);
    });

    // y axis, labels parallel to the axis
    opts.yTicks.forEach((v, i) => {
      const py = ys.getPixelForValue(v);
      ctx.beginPath();
      ctx.moveTo(area.left - 13, py);
      ctx.lineTo(area.left, py);
      ctx.stroke();
      if (opts.yLabels[i]) {
        ctx.save();
        ctx.translate(30, py + (opts.yShift || 0));
        ctx.rotate(-Math.PI / 2);
        if (opts.ySpacing) ctx.letterSpacing = opts.ySpacing;
        ctx.fillText(opts.yLabels[i], 0, 0);
        ctx.restore();
      }
    });

    // title
    ctx.font = 'bold 19px ' + FONT;
    ctx.fillText(opts.title, 405, 27);
    ctx.restore();
  }
};

function makePanel(id, title, points, line, xr, yr, axes) {
  const canvas = document.getElementById(id);
  new Chart(canvas.getContext('2d'), {
    type: 'scatter',
    data: {
      datasets: [
        {
          data: line.map(p => ({ x: p[0], y: p[1] })),
          showLine: true,
          borderColor: '#000',
          borderWidth: 2,
          pointRadius: 0,
          fill: false,
          tension: 0
        },
        {
          data: points.map(p => ({ x: p[0], y: p[1] })),
          pointStyle: 'rect',
          pointRadius: 1.75,
          pointBorderWidth: 0,
          backgroundColor: '#0000FF',
          borderColor: '#0000FF'
        }
      ]
    },
    options: {
      responsive: false,
      animation: false,
      events: [],
      layout: {
        padding: { left: 59, right: 0, top: 58, bottom: canvas.height - 180 }
      },
      scales: {
        x: { type: 'linear', display: false, min: xr[0], max: xr[1] },
        y: { type: 'linear', display: false, min: yr[0], max: yr[1] }
      },
      plugins: {
        legend: { display: false },
        tooltip: { enabled: false },
        rFrame: Object.assign({ title }, axes)
      }
    },
    plugins: [rFrame]
  });
}

makePanel('rsChart', titles[0], rsPoints, rsLine, [-0.000118, 0.003425], [-0.4715, 0.432],
  { xTicks: rsXTicks, xLabels: rsXLabels, yTicks: rsYTicks, yLabels: rsYLabels });
makePanel('raChart', titles[1], raPoints, raLine, [0.01292, 0.19647], [-0.001348, 0.001208],
  { xTicks: raXTicks, xLabels: raXLabels, yTicks: raYTicks, yLabels: raYLabels, ySpacing: '3px', yShift: 3 });
makePanel('tsChart', titles[2], tsPoints, tsLine, [0.01211, 0.19046], [0.00699, 0.08066],
  { xTicks: tsXTicks, xLabels: tsXLabels, yTicks: tsYTicks, yLabels: tsYLabels });
</script>
</body>
</html>
